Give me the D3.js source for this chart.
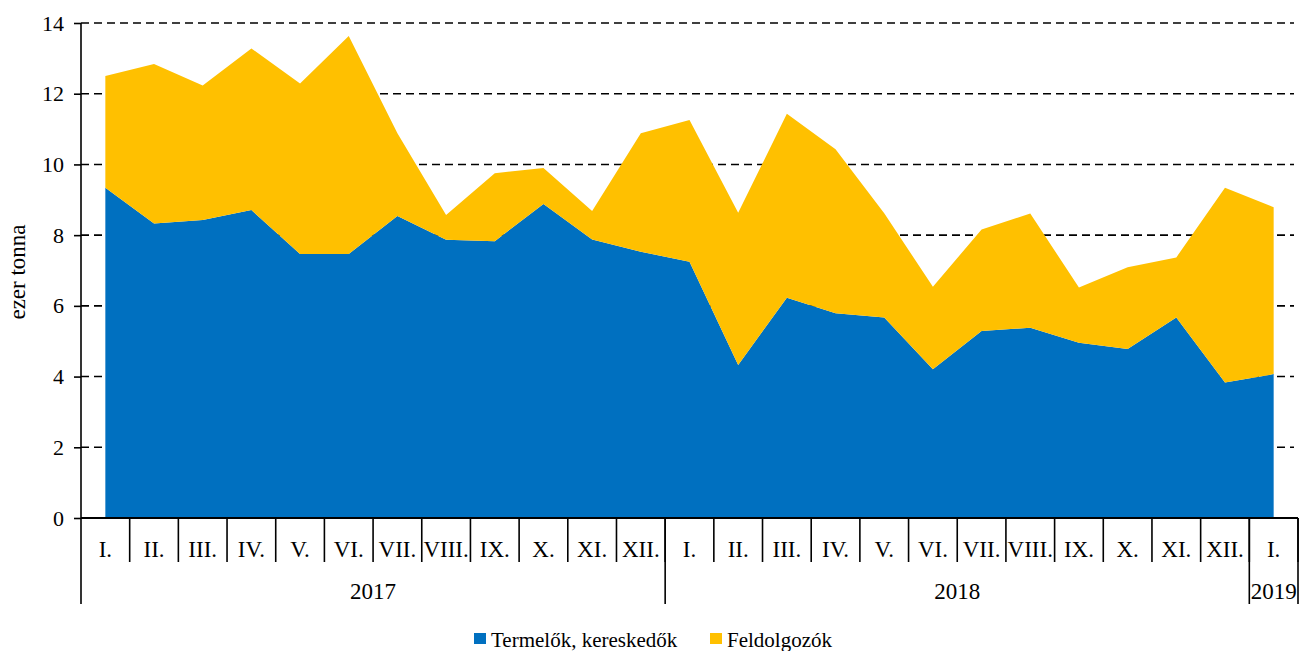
<!DOCTYPE html>
<html lang="hu">
<head>
<meta charset="UTF-8">
<title>Termelők és feldolgozók készlete</title>
<script src="https://d3js.org/d3.v7.min.js"></script>
<style>
  body { margin: 0; background: #fff; }
  svg text { font-family: "Liberation Serif", "Times New Roman", serif; fill: #000; }
</style>
</head>
<body>
<svg width="1300" height="651"></svg>
<script>
// havi adatok, ezer tonna
const months = ["I.", "II.", "III.", "IV.", "V.", "VI.", "VII.", "VIII.", "IX.", "X.", "XI.", "XII.",
                "I.", "II.", "III.", "IV.", "V.", "VI.", "VII.", "VIII.", "IX.", "X.", "XI.", "XII.",
                "I."];
const years = [{ label: "2017", from: 0, to: 12 }, { label: "2018", from: 12, to: 24 }, { label: "2019", from: 24, to: 25 }];
const termelok = [9.34, 8.33, 8.43, 8.71, 7.47, 7.47, 8.54, 7.87, 7.83, 8.88, 7.88, 7.53,
                  7.25, 4.33, 6.23, 5.79, 5.67, 4.21, 5.29, 5.38, 4.96, 4.78, 5.67, 3.83,
                  4.07];
const feldolgozok = [3.16, 4.51, 3.80, 4.57, 4.82, 6.16, 2.34, 0.70, 1.92, 1.02, 0.80, 3.35,
                     4.01, 4.30, 5.20, 4.64, 2.95, 2.33, 2.87, 3.23, 1.56, 2.31, 1.70, 5.51,
                     4.72];
const yTicks = [0, 2, 4, 6, 8, 10, 12, 14];
const seriesNames = ["Termelők, kereskedők", "Feldolgozók"];
const colors = ["#0070C0", "#FFC000"];

const svg = d3.select("svg");
const mLeft = 81, mRight = 1298, mTop = 23, mBottom = 518;

const x = d3.scaleBand().domain(d3.range(months.length)).range([mLeft, mRight]).padding(0);
const y = d3.scaleLinear().domain([0, 14]).range([mBottom, mTop]);

const rows = months.map((m, i) => ({ i: i, a: termelok[i], b: feldolgozok[i] }));
const stacked = d3.stack().keys(["a", "b"])(rows);

// rácsvonalak
svg.append("g").selectAll("line").data(yTicks.filter(d => d > 0)).join("line")
  .attr("x1", mLeft).attr("x2", 1294)
  .attr("y1", d => y(d)).attr("y2", d => y(d))
  .attr("stroke", "#000").attr("stroke-width", 1.6).attr("stroke-dasharray", "8,5");

// területek
const area = d3.area()
  .x(d => x(d.data.i) + x.bandwidth() / 2)
  .y0(d => y(d[0]))
  .y1(d => y(d[1]));
svg.append("g").selectAll("path").data(stacked).join("path")
  .attr("d", area)
  .attr("fill", (d, i) => colors[i]);

// y tengely
const yAxis = svg.append("g").attr("transform", `translate(${mLeft},0)`)
  .call(d3.axisLeft(y).tickValues(yTicks).tickSize(7).tickPadding(10));
yAxis.select(".domain").remove();
yAxis.selectAll(".tick line").attr("stroke-width", 1.6);
yAxis.selectAll("text").attr("font-size", 22).style("font-family", "Liberation Serif");
svg.append("line").attr("x1", mLeft).attr("x2", mLeft).attr("y1", mTop).attr("y2", 604)
  .attr("stroke", "#000").attr("stroke-width", 1.6);

// x tengely
const xPos = i => i < months.length ? x(i) : mRight;
svg.append("line").attr("x1", mLeft).attr("x2", mRight).attr("y1", mBottom).attr("y2", mBottom)
  .attr("stroke", "#000").attr("stroke-width", 2);
svg.append("g").selectAll("line").data(d3.range(1, months.length + 1)).join("line")
  .attr("x1", d => xPos(d)).attr("x2", d => xPos(d))
  .attr("y1", mBottom).attr("y2", 562)
  .attr("stroke", "#000").attr("stroke-width", 1.6);
svg.append("g").selectAll("text").data(months).join("text")
  .attr("x", (d, i) => x(i) + x.bandwidth() / 2)
  .attr("y", 557)
  .attr("text-anchor", "middle").attr("font-size", 23)
  .text(d => d);

// év elválasztók
svg.append("g").selectAll("line").data(years).join("line")
  .attr("x1", d => xPos(d.to)).attr("x2", d => xPos(d.to))
  .attr("y1", mBottom).attr("y2", 604)
  .attr("stroke", "#000").attr("stroke-width", 1.6);
svg.append("g").selectAll("text").data(years).join("text")
  .attr("x", d => (xPos(d.from) + xPos(d.to)) / 2)
  .attr("y", 599)
  .attr("text-anchor", "middle").attr("font-size", 23)
  .text(d => d.label);

// y tengely cím
svg.append("text")
  .attr("transform", "translate(25,272) rotate(-90)")
  .attr("text-anchor", "middle").attr("font-size", 23)
  .text("ezer tonna");

// jelmagyarázat
const legendX = [474, 710];
const legend = svg.append("g").selectAll("g").data(seriesNames).join("g")
  .attr("transform", (d, i) => `translate(${legendX[i]},633)`);
legend.append("rect").attr("width", 12).attr("height", 11).attr("fill", (d, i) => colors[i]);
legend.append("text").attr("x", 17).attr("y", 14).attr("font-size", 21).text(d => d);
</script>
</body>
</html>
